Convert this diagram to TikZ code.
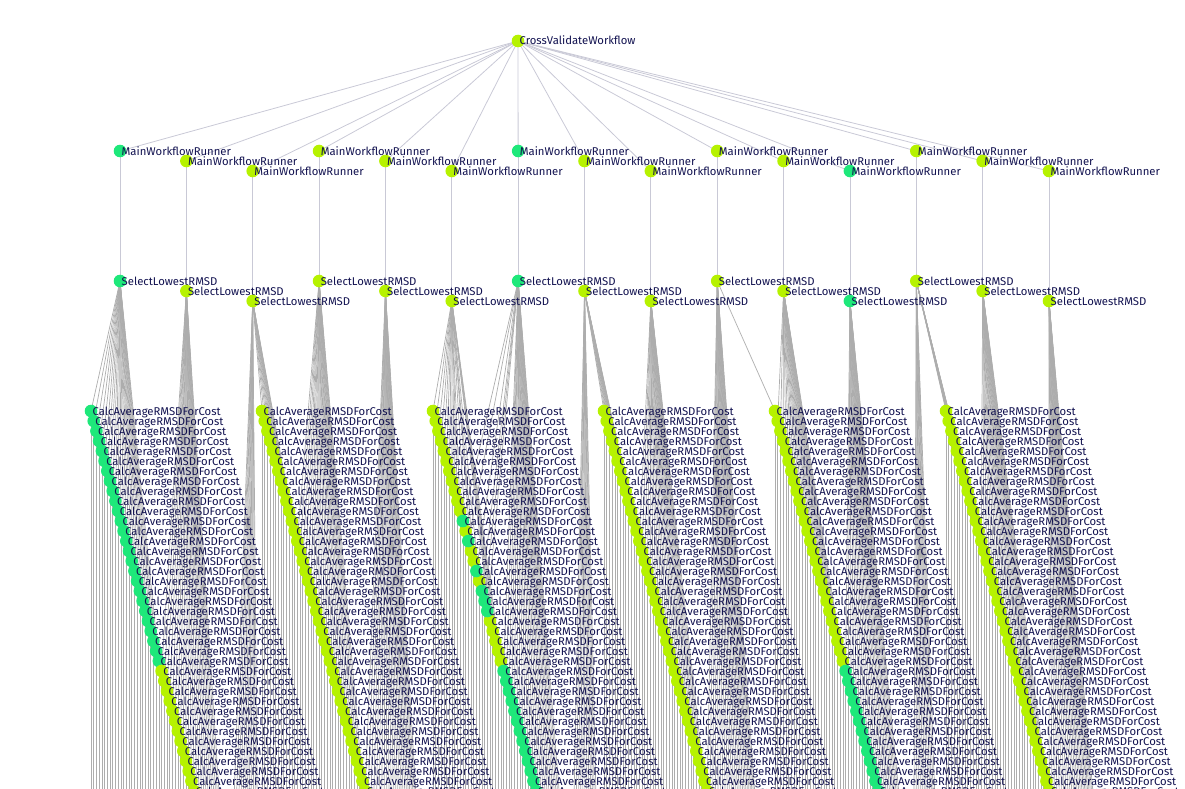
\documentclass[tikz,border=0pt]{standalone}
\usepackage{fontspec}
\setmainfont{Fira Sans}
\definecolor{gr}{HTML}{1EE87A}
\definecolor{lm}{HTML}{B6F200}
\definecolor{txt}{HTML}{121250}
\definecolor{ea}{HTML}{C9C9D6}
\definecolor{eb}{HTML}{ADADAD}
\tikzset{
  dot/.style={circle,inner sep=0pt,minimum size=12.6pt,draw=none},
  lbl/.style={text=txt,inner sep=0pt,anchor=base west,font=\fontsize{11.3}{13}\selectfont},
  topedge/.style={draw=ea,line width=0.8pt},
  midedge/.style={draw=ea,line width=0.8pt},
  fan/.style={draw=eb,line width=0.7pt},
}
\newcommand\pickcol[1]{\def\dc{lm}\ifnum#1=0 \def\dc{gr}\fi\ifnum#1=6 \def\dc{gr}\fi\ifnum#1=11 \def\dc{gr}\fi}
% pass 1: invisible named nodes
\newcommand\calcpos[2]{%
  \pgfmathsetmacro\cnx{91+2.7143*#1}%
  \pgfmathtruncatemacro\cnr{mod(#1,63)}%
  \pgfmathsetmacro\cny{411+10*\cnr}%
  \node[dot] (c#1) at (\cnx,\cny) {};
  \coordinate (cd#1) at (\cnx,1300);
}
% pass 2: connectors
\newcommand\calcedge[2]{%
  \draw[fan] (s#2.center) -- (c#1.center);
  \draw[fan] (c#1.center) -- (cd#1);
}
% pass 3: visible dots and labels
\newcommand\calcdraw[2]{%
  \pickcol{#2}%
  \fill[\dc] (c#1.center) circle[radius=6.3pt];
  \node[lbl] (ct#1) at ([xshift=1.5pt,yshift=-4pt]c#1.center) {CalcAverageRMSDForCost};
}
\newcommand\allcalc[1]{%
  \foreach \i/\s/\e in {0/0/25,1/26/50,2/51/75,3/76/100,4/101/125}{
    \foreach \k in {\s,...,\e}{#1{\k}{\i}}
  }
  \foreach \k in {126,127,128,129,130,131,132,133,134,135,136,138,140,141,143,147,148,149,150,151}{#1{\k}{5}}
  \foreach \k in {137,139,142,144,145,146}{#1{\k}{6}}
  \foreach \k in {152,...,176}{#1{\k}{6}}
  \foreach \i/\s/\e in {7/177/201,8/202/226,9/227/252,10/253/277,11/278/302,12/303/327,13/328/352,14/353/377}{
    \foreach \k in {\s,...,\e}{#1{\k}{\i}}
  }
}
\begin{document}
\begin{tikzpicture}[x=1pt,y=-1pt]
\useasboundingbox (0,0) rectangle (1185,789);
% positions
\node[dot] (root) at (518,41) {};
\foreach \i in {0,...,14}{
  \pgfmathsetmacro\mx{120+66.357*\i}
  \pgfmathtruncatemacro\mr{mod(\i,3)}
  \node[dot] (m\i) at (\mx,{151+10*\mr}) {};
  \node[dot] (s\i) at (\mx,{281+10*\mr}) {};
}
\allcalc{\calcpos}
% connectors
\foreach \i in {0,...,14}{
  \draw[topedge] (root.center) -- (m\i.center);
  \draw[midedge] (m\i.center) -- (s\i.center);
}
\allcalc{\calcedge}
% dots and labels
\fill[lm] (root.center) circle[radius=6.3pt];
\node[lbl] (roott) at ([xshift=1.5pt,yshift=-4pt]root.center) {CrossValidateWorkflow};
\foreach \i in {0,...,14}{
  \pickcol{\i}
  \fill[\dc] (m\i.center) circle[radius=6.3pt];
  \node[lbl] (mt\i) at ([xshift=1.5pt,yshift=-4pt]m\i.center) {MainWorkflowRunner};
  \fill[\dc] (s\i.center) circle[radius=6.3pt];
  \node[lbl] (st\i) at ([xshift=1.5pt,yshift=-4pt]s\i.center) {SelectLowestRMSD};
}
\allcalc{\calcdraw}
\end{tikzpicture}
\end{document}
